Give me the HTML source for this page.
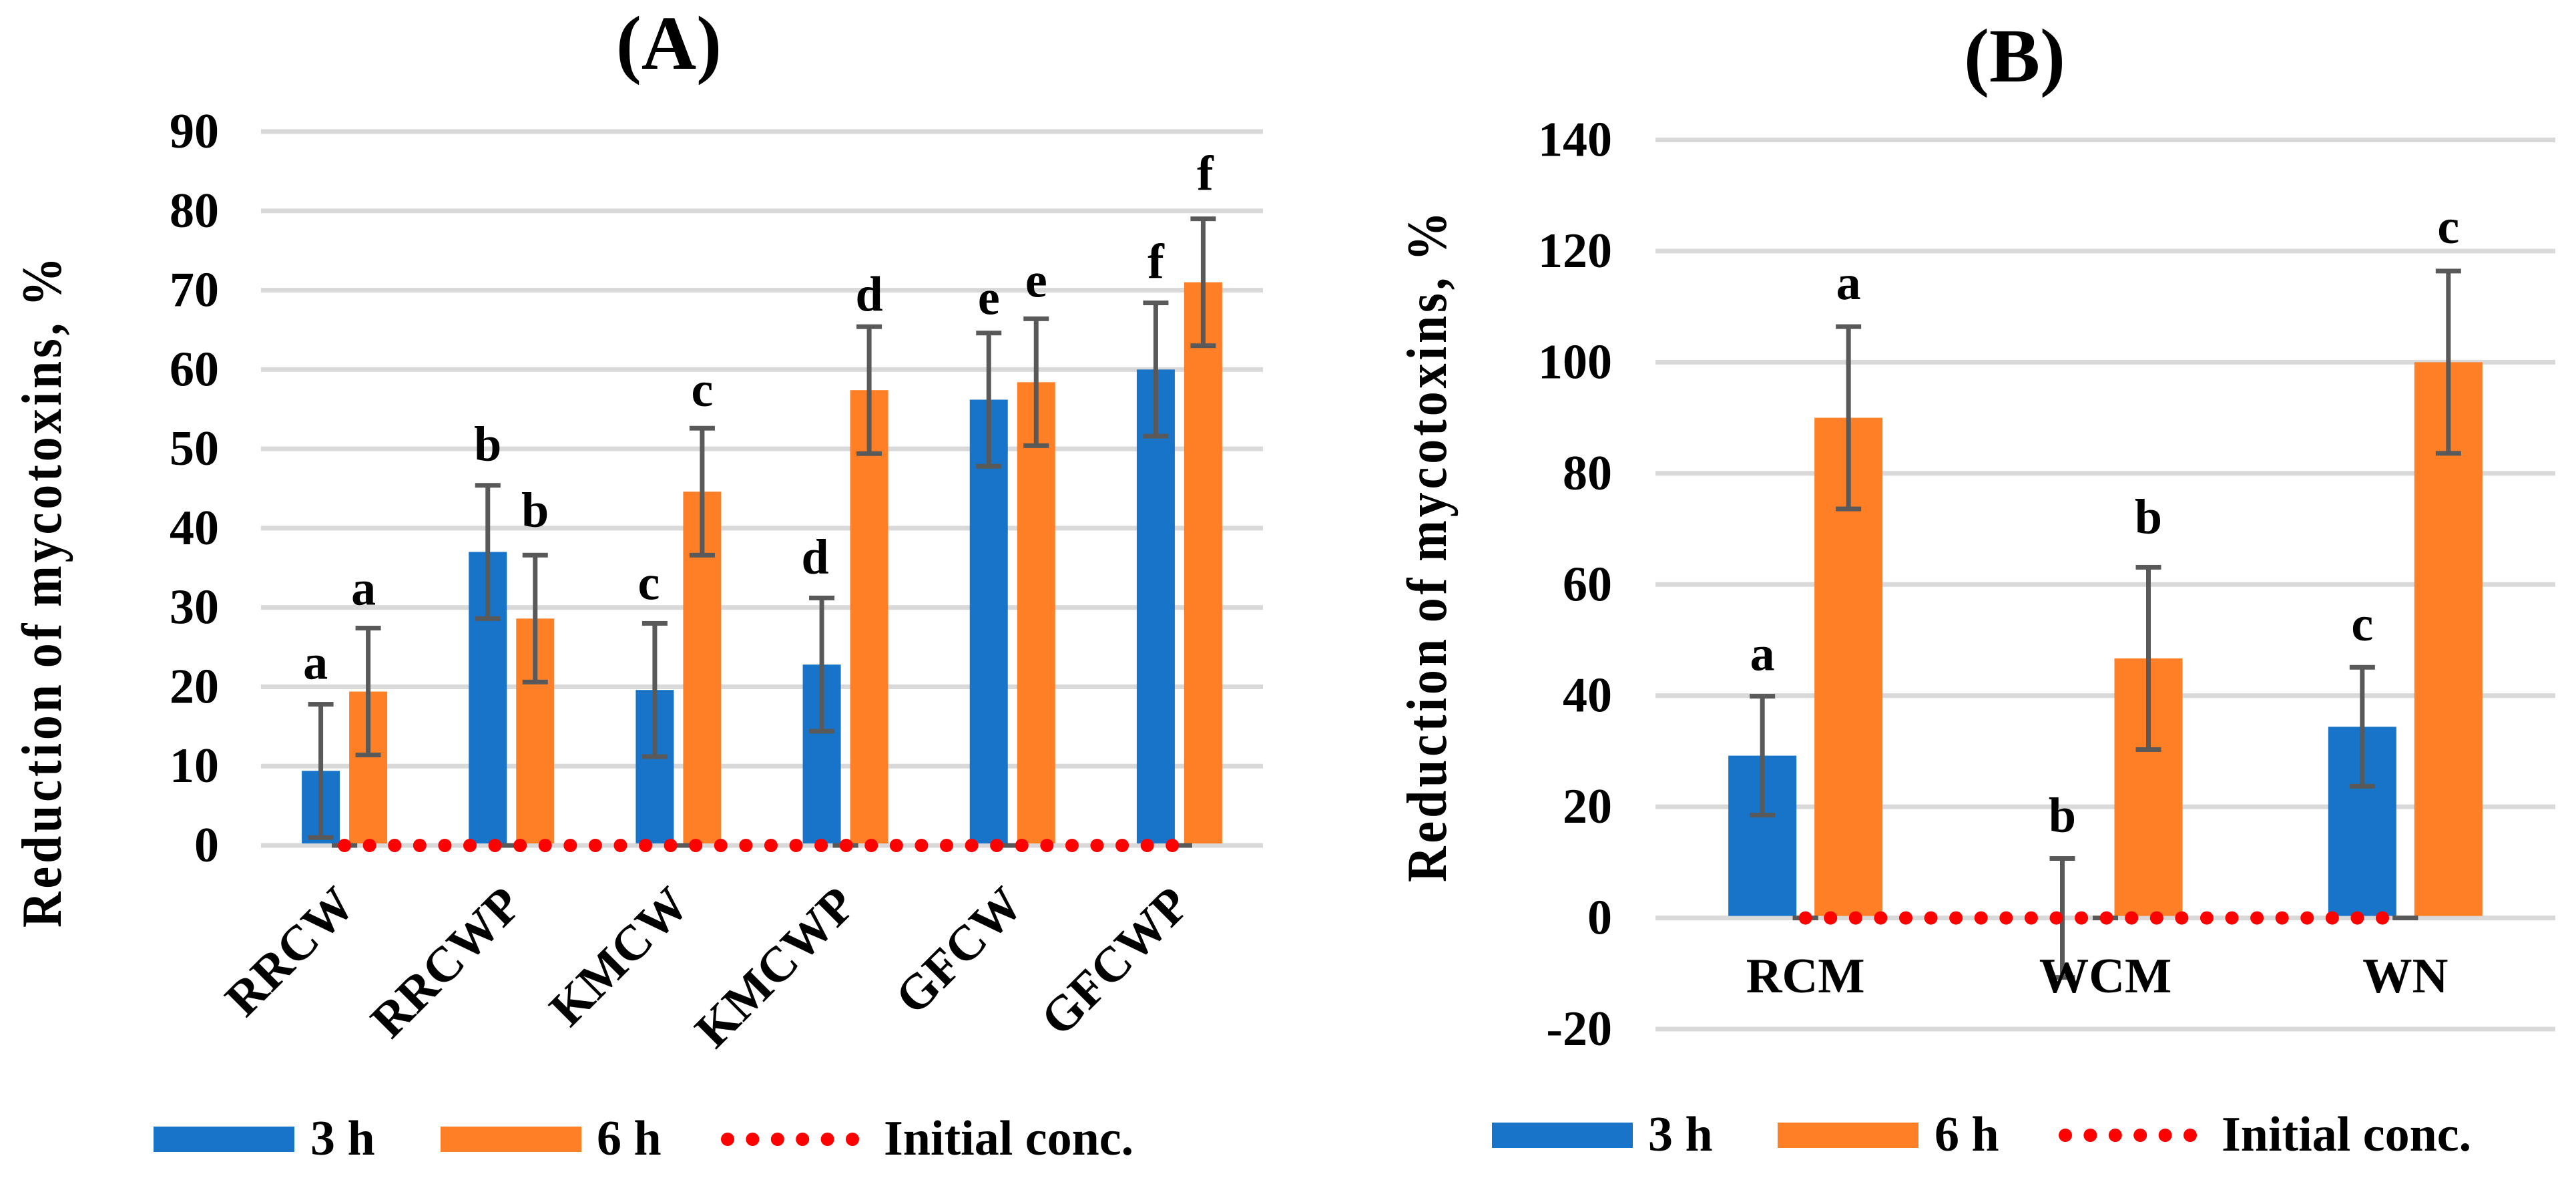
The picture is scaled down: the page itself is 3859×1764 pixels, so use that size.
<!DOCTYPE html>
<html lang="en">
<head>
<meta charset="utf-8">
<title>Reduction of mycotoxins</title>
<style>
html,body{margin:0;padding:0;background:#fff;width:3859px;height:1764px;overflow:hidden}
svg{display:block}
text{font-family:"Liberation Serif",serif;font-weight:bold;fill:#000}
</style>
</head>
<body>
<svg id="figure" xmlns="http://www.w3.org/2000/svg" width="3859" height="1764" viewBox="0 0 3859 1764">
  <rect width="3859" height="1764" fill="#fff"/>
  <text x="1002" y="103" font-size="114" text-anchor="middle">(A)</text>
  <text x="3018" y="122" font-size="114" text-anchor="middle">(B)</text>
  <text transform="translate(91,1389) rotate(-90) scale(1,1.15)" font-size="74" letter-spacing="4.9" word-spacing="-3.5">Reduction of mycotoxins, %</text>
  <text transform="translate(2166,1321) rotate(-90) scale(1,1.15)" font-size="74" letter-spacing="4.9" word-spacing="-3.5">Reduction of mycotoxins, %</text>
  <g id="chart-a"></g>
  <g id="chart-b"></g>
  <g>
    <rect x="230" y="1687" width="211" height="38" fill="#1874C8"/>
    <text x="465" y="1729" font-size="74">3 h</text>
    <rect x="660" y="1687" width="211" height="38" fill="#FF7F27"/>
    <text x="894" y="1729" font-size="74">6 h</text>
    <line x1="1090" y1="1706" x2="1280" y2="1706" stroke="#FF0000" stroke-width="20" stroke-linecap="round" stroke-dasharray="0 37.4"/>
    <text x="1324" y="1729" font-size="74">Initial conc.</text>
  </g>
  <g>
    <rect x="2235" y="1681" width="211" height="38" fill="#1874C8"/>
    <text x="2469" y="1723" font-size="74">3 h</text>
    <rect x="2663" y="1681" width="211" height="38" fill="#FF7F27"/>
    <text x="2898" y="1723" font-size="74">6 h</text>
    <line x1="3094" y1="1700" x2="3284" y2="1700" stroke="#FF0000" stroke-width="20" stroke-linecap="round" stroke-dasharray="0 37.4"/>
    <text x="3328" y="1723" font-size="74">Initial conc.</text>
  </g>
</svg>
<script>
// Chart A data
const categoriesA = ['RRCW', 'RRCWP', 'KMCW', 'KMCWP', 'GFCW', 'GFCWP'];
const values3hA = [9.4, 37.0, 19.6, 22.8, 56.2, 60.0];
const values6hA = [19.4, 28.6, 44.6, 57.4, 58.4, 71.0];
const errors3hA = [8.4, 8.4, 8.4, 8.4, 8.4, 8.4];
const errors6hA = [8.0, 8.0, 8.0, 8.0, 8.0, 8.0];
const initialA = [0, 0, 0, 0, 0, 0];
const letters3hA = ['a', 'b', 'c', 'd', 'e', 'f'];
const letters6hA = ['a', 'b', 'c', 'd', 'e', 'f'];
const ticksA = [0, 10, 20, 30, 40, 50, 60, 70, 80, 90];

// Chart B data
const categoriesB = ['RCM', 'WCM', 'WN'];
const values3hB = [29.2, 0, 34.4];
const values6hB = [90, 46.7, 100];
const errors3hB = [10.7, 10.7, 10.7];
const errors6hB = [16.4, 16.4, 16.4];
const initialB = [0, 0, 0];
const letters3hB = ['a', 'b', 'c'];
const letters6hB = ['a', 'b', 'c'];
const ticksB = [-20, 0, 20, 40, 60, 80, 100, 120, 140];

const NS = 'http://www.w3.org/2000/svg';
function make(parent, tag, attrs, content) {
  const node = document.createElementNS(NS, tag);
  for (const key in attrs) node.setAttribute(key, attrs[key]);
  if (content !== undefined) node.textContent = content;
  parent.appendChild(node);
  return node;
}

function drawErrorBar(parent, x, yTop, yBottom, name) {
  const stem = make(parent, 'rect', { x: x - 3.5, y: yTop, width: 7, height: yBottom - yTop, fill: '#595959' });
  
  
  const capTop = make(parent, 'rect', { x: x - 19, y: yTop - 3.5, width: 38, height: 7, fill: '#595959' });
  
  
  const capBottom = make(parent, 'rect', { x: x - 19, y: yBottom - 3.5, width: 38, height: 7, fill: '#595959' });
  
  
}

function drawChart(root, d, layout) {
  const span = d.ticks[d.ticks.length - 1] - d.ticks[0];
  const yScale = v => layout.yMin + (v - d.ticks[0]) * (layout.yMax - layout.yMin) / span;
  const band = (layout.right - layout.left) / d.categories.length;
  const xCenter = i => layout.left + band * (i + 0.5);
  const zero = yScale(0);

  d.ticks.forEach(t => {
    const grid = make(root, 'rect', { x: layout.left, y: yScale(t) - 3.5, width: layout.right - layout.left, height: 7, fill: '#D9D9D9' });
    
    
    const label = make(root, 'text', { x: layout.tickX, y: yScale(t) + 24, 'font-size': 74, 'text-anchor': 'end' }, String(t));
    
    
  });

  const series = [
    { key: '3h', values: d.values3h, errors: d.errors3h, letters: d.letters3h, color: '#1874C8', sign: -1, nudge: layout.nudge3h },
    { key: '6h', values: d.values6h, errors: d.errors6h, letters: d.letters6h, color: '#FF7F27', sign: 1, nudge: layout.nudge6h }
  ];

  series.forEach(s => {
    s.values.forEach((v, i) => {
      const cx = xCenter(i) + s.sign * layout.barOffset;
      const top = yScale(v);
      const base = zero - 3;
      if (top < base) {
        const bar = make(root, 'rect', { x: cx - layout.barWidth / 2, y: top, width: layout.barWidth, height: base - top, fill: s.color });
        
        
      }
    });
  });

  series.forEach(s => {
    s.values.forEach((v, i) => {
      const cx = xCenter(i) + s.sign * layout.barOffset;
      drawErrorBar(root, cx, yScale(v + s.errors[i]), yScale(v - s.errors[i]), 'error-bar-' + s.key + '-' + d.categories[i].toLowerCase());
    });
  });

  d.initial.forEach((v, i) => {
    drawErrorBar(root, xCenter(i), yScale(v), yScale(v), 'error-bar-initial-' + d.categories[i].toLowerCase());
  });

  const pts = d.initial.map((v, i) => xCenter(i) + ',' + yScale(v)).join(' ');
  const line = make(root, 'polyline', { points: pts, fill: 'none', stroke: '#FF0000', 'stroke-width': 20, 'stroke-linecap': 'round', 'stroke-dasharray': '0 37.58' });
  
  

  series.forEach(s => {
    s.letters.forEach((ch, i) => {
      const n = s.nudge[i];
      const cx = xCenter(i) + s.sign * layout.barOffset + n[0];
      const by = yScale(s.values[i] + s.errors[i]) - layout.letterGap + n[1];
      const letter = make(root, 'text', { x: cx, y: by, 'font-size': 74, 'text-anchor': 'middle' }, ch);
      
      
    });
  });

  d.categories.forEach((c, i) => {
    if (layout.rotated) {
      const label = make(root, 'text', {
        transform: 'translate(' + (xCenter(i) + 19) + ',' + layout.catY + ') rotate(-45)',
        'font-size': 74.5, 'text-anchor': 'end'
      }, c);
      
      
    } else {
      const label = make(root, 'text', { x: xCenter(i), y: layout.catY, 'font-size': 74.5, 'text-anchor': 'middle' }, c);
      
      
    }
  });
}

drawChart(document.getElementById('chart-a'), {
  categories: categoriesA, values3h: values3hA, values6h: values6hA,
  errors3h: errors3hA, errors6h: errors6hA, initial: initialA,
  letters3h: letters3hA, letters6h: letters6hA, ticks: ticksA
}, {
  left: 391, right: 1892, yMin: 1266, yMax: 197, tickX: 328,
  barOffset: 35.5, barWidth: 57, letterGap: 37, catY: 1359, rotated: true,
  nudge3h: [[-8, -1], [0, 0], [-9, 1], [-10, 0], [0, 9], [0, 0]],
  nudge6h: [[-7, 2], [0, -6], [0, 4], [0, 13], [0, 4], [3, -6]]
});

drawChart(document.getElementById('chart-b'), {
  categories: categoriesB, values3h: values3hB, values6h: values6hB,
  errors3h: errors3hB, errors6h: errors6hB, initial: initialB,
  letters3h: letters3hB, letters6h: letters6hB, ticks: ticksB
}, {
  left: 2480, right: 3828, yMin: 1541, yMax: 209.5, tickX: 2415,
  barOffset: 64.5, barWidth: 102, letterGap: 40, catY: 1486, rotated: false,
  nudge3h: [[0, 1], [0, 0], [0, 0]],
  nudge6h: [[0, -1], [0, -11], [0, -2]]
});
</script>
</body>
</html>
